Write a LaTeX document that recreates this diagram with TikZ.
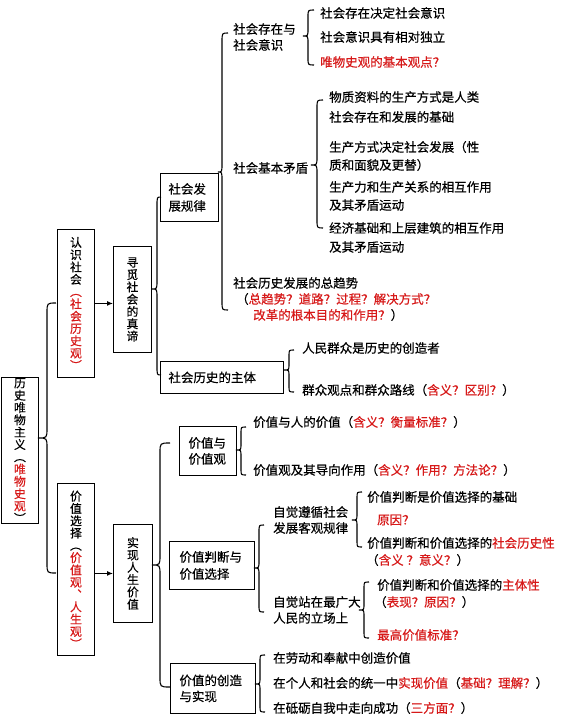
\documentclass[tikz,border=0pt]{standalone}
\usepackage{fontspec}
\setmainfont{Noto Sans CJK SC}[RawFeature={embolden=0.5}]
\usetikzlibrary{arrows.meta}
\definecolor{rd}{RGB}{215,25,25}
\newcommand\rt[1]{\textcolor{rd}{#1}}
\newcommand\hf[1]{\fontsize{12.5}{#1}\selectfont}
\newcommand\vf{\fontsize{11.8}{12.3}\selectfont}
% curly brace: #1 xtip, #2 ytip, #3 xline, #4 ytop, #5 ybottom, #6 xend, #7 curl
\newcommand\cbr[7]{\draw[brc] (#6,#4) .. controls (#3,#4) .. (#3,#4+#7) -- (#3,#2-#7) .. controls (#3,#2) .. (#1,#2) .. controls (#3,#2) .. (#3,#2+#7) -- (#3,#5-#7) .. controls (#3,#5) .. (#6,#5);}
\tikzset{
  bx/.style={draw, line width=0.9pt, inner ysep=0pt, align=left, anchor=north west, font=\hf{17}},
  vbx/.style={draw, line width=0.9pt, inner sep=0pt, align=center, anchor=north west, font=\vf},
  txt/.style={anchor=west, inner sep=0pt, align=left, font=\hf{16}},
  brc/.style={line width=1.1pt},
  arr/.style={line width=1pt, -{Latex[length=6pt,width=5pt]}},
}
\begin{document}
\begin{tikzpicture}[x=1pt,y=-1pt]
\useasboundingbox (0,0) rectangle (585,722);
\fill[white] (0,0) rectangle (585,722);

% vertical boxes
\node[vbx, minimum width=37pt, minimum height=146pt] (root) at (1,377)
  {历\\史\\唯\\物\\主\\义\\︵\\\rt{唯}\\\rt{物}\\\rt{史}\\\rt{观}\\︶};
\node[vbx, minimum width=37pt, minimum height=148pt] (know) at (57,229)
  {认\\识\\社\\会\\\rt{︵}\\\rt{社}\\\rt{会}\\\rt{历}\\\rt{史}\\\rt{观}\\\rt{︶}};
\node[vbx, minimum width=37pt, minimum height=172pt] (value) at (57,483)
  {价\\值\\选\\择\\︵\\\rt{价}\\\rt{值}\\\rt{观}\\\rt{︑}\\\rt{人}\\\rt{生}\\\rt{观}\\\rt{︶}};
\node[vbx, minimum width=38pt, minimum height=106pt] (seek) at (113,246)
  {寻\\觅\\社\\会\\的\\真\\谛};
\node[vbx, minimum width=39pt, minimum height=98pt] (real) at (113,524)
  {实\\现\\人\\生\\价\\值};

% horizontal boxes
\node[bx, text width=42pt, inner xsep=8pt, minimum height=48pt] (law) at (160,173) {社会发\\展规律};
\node[bx, text width=107pt, inner xsep=8pt, minimum height=32pt] (subj) at (160,361) {社会历史的主体};
\node[bx, text width=39pt, inner xsep=9pt, minimum height=49pt, font=\hf{16}] (vv) at (179,426) {价值与\\价值观};
\node[bx, text width=65pt, inner xsep=10pt, minimum height=48pt] (judge) at (169,541) {价值判断与\\价值选择};
\node[bx, text width=67pt, inner xsep=9pt, minimum height=50pt, font=\hf{16}] (create) at (170,663) {价值的创造\\与实现};

% arrows
\draw[arr] (know.east) -- (know.east -| seek.west);
\draw[arr] (real.west -| value.east) -- (real.west);

% braces
\cbr{38}{438}{47}{303}{573}{56}{10}
\cbr{152}{289}{157}{197}{375}{161}{9}
\cbr{218}{172}{222}{33}{310}{228}{9}
\cbr{303}{36}{308}{10}{65}{314}{7}
\cbr{311}{165}{317}{100}{228}{323}{8}
\cbr{284}{370}{289}{350}{392}{294}{6}
\cbr{152}{565}{160}{443}{687}{170}{10}
\cbr{236}{450}{241}{427}{475}{246}{6}
\cbr{254}{568}{259}{525}{612}{264}{7}
\cbr{352}{520}{357}{492}{547}{362}{6}
\cbr{359}{610}{364}{582}{638}{369}{6}
\cbr{255}{684}{260}{655}{712}{265}{6}

% upper texts
\node[txt] (t1) at (233,37) {社会存在与\\社会意识};
\node[txt] (t2) at (320,13) {社会存在决定社会意识};
\node[txt] (t3) at (320,37) {社会意识具有相对独立};
\node[txt] (t4) at (320,62) {\rt{唯物史观的基本观点？}};
\node[txt] (t5) at (233,168) {社会基本矛盾};
\node[txt, font=\hf{20}] (t6) at (329,107) {物质资料的生产方式是人类\\社会存在和发展的基础};
\node[txt, font=\hf{18}] (t7) at (329,156) {生产方式决定社会发展（性\\质和面貌及更替）};
\node[txt, font=\hf{18}] (t8) at (329,196) {生产力和生产关系的相互作用\\及其矛盾运动};
\node[txt, font=\hf{19}] (t9) at (329,237.5) {经济基础和上层建筑的相互作用\\及其矛盾运动};
\node[txt] (t10) at (233,283) {社会历史发展的总趋势};
\node[txt] (t10b) at (236,299) {（\rt{总趋势？道路？过程？解决方式？}};
\node[txt] (t10c) at (253,315) {\rt{改革的根本目的和作用？}）};
\node[txt] (t11) at (302,348) {人民群众是历史的创造者};
\node[txt] (t12) at (302,390) {群众观点和群众路线（\rt{含义？区别？}）};

% lower texts
\node[txt] (t13) at (253,422) {价值与人的价值（\rt{含义？衡量标准？}）};
\node[txt] (t14) at (253,470) {价值观及其导向作用（\rt{含义？作用？方法论？}）};
\node[txt] (t15) at (273,520) {自觉遵循社会\\发展客观规律};
\node[txt] (t16) at (367,497) {价值判断是价值选择的基础};
\node[txt] (t17) at (377,520) {\rt{原因？}};
\node[txt] (t18) at (367,543) {价值判断和价值选择的\rt{社会历史性}};
\node[txt] (t19) at (366,560) {（\rt{含义 ？意义？}）};
\node[txt] (t20) at (273,610) {自觉站在最广大\\人民的立场上};
\node[txt] (t21) at (377,585) {价值判断和价值选择的\rt{主体性}};
\node[txt] (t22) at (374,602) {（\rt{表现？原因？}）};
\node[txt] (t23) at (377,635) {\rt{最高价值标准？}};
\node[txt] (t24) at (273,658) {在劳动和奉献中创造价值};
\node[txt] (t25) at (273,683) {在个人和社会的统一中\rt{实现价值}（\rt{基础？理解？}）};
\node[txt] (t26) at (273,708) {在砥砺自我中走向成功（\rt{三方面？}）};
\end{tikzpicture}
\end{document}
